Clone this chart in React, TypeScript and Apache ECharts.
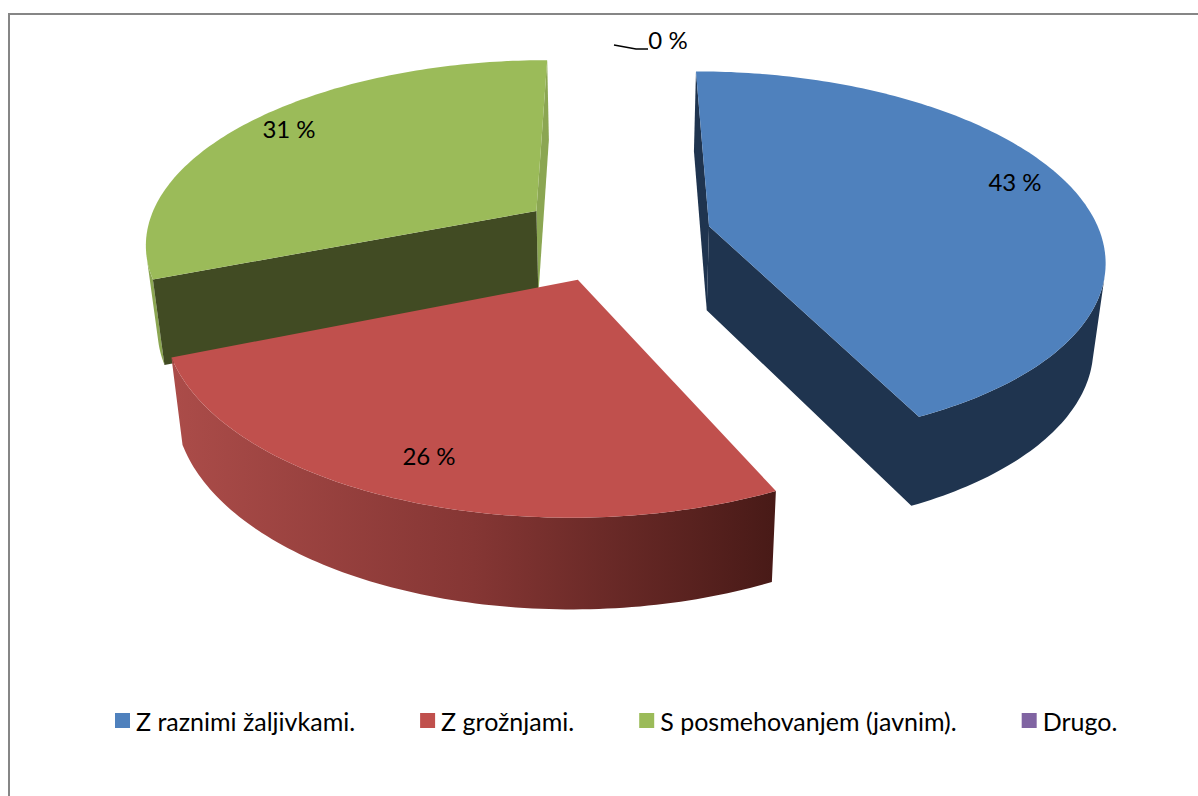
import React, { useEffect, useRef } from "react";
import * as echarts from "echarts";

const categories = ["Z raznimi žaljivkami.", "Z grožnjami.", "S posmehovanjem (javnim).", "Drugo."];
const values = [43, 26, 31, 0];
const topColors = ["#4F81BD", "#C0504D", "#9BBB59", "#8064A2"];
const FONT = "Lato";

// projection of the tilted pie plane
const CX = 615, CY = 236, RX = 392, RY = 183, K = 0.163, EXPLODE = 0.248;
const rad = (d: number) => (d * Math.PI) / 180;
const total = values.reduce((a, b) => a + b, 0);

function project(u: number, v: number): [number, number] {
  const w = 1 - K * v;
  return [CX + (RX * u) / w, CY + (RY * v) / w];
}
function extrude(p: number[]): [number, number] {
  return [CX + (p[0] - CX) * 0.975, p[1] + 84 + (p[1] - 226) * 0.0265];
}
function sliceGeom(index: number) {
  const start = (values.slice(0, index).reduce((a, b) => a + b, 0) / total) * 360;
  const sweep = (values[index] / total) * 360;
  const mid = start + sweep / 2;
  const ou = EXPLODE * Math.sin(rad(mid));
  const ov = -EXPLODE * Math.cos(rad(mid));
  const apex = project(ou, ov);
  const arc: [number, number][] = [];
  const n = Math.max(2, Math.ceil(sweep));
  for (let i = 0; i <= n; i++) {
    const t = rad(start + (sweep * i) / n);
    arc.push(project(ou + Math.sin(t), ov - Math.cos(t)));
  }
  return { apex, arc };
}
// index of the arc point on the silhouette of the extruded wall
function tangentIndex(arc: number[][], sign: number) {
  let best = 0;
  let score = -Infinity;
  arc.forEach((p, i) => {
    const s = sign * p[0] + 0.14 * p[1];
    if (s > score) {
      score = s;
      best = i;
    }
  });
  return best;
}

const poly = (points: number[][], fill: any, z2: number) => ({
  type: "polygon",
  z2,
  silent: true,
  shape: { points },
  style: { fill, stroke: null },
});
const label = (text: string, x: number, y: number, z2: number) => ({
  type: "text",
  z2,
  silent: true,
  style: { text, x, y, fill: "#000000", font: `24px ${FONT}`, textAlign: "center", textVerticalAlign: "middle" },
});

const redWall = new echarts.graphic.LinearGradient(
  172, 0, 775, 0,
  [
    { offset: 0, color: "#AB4C49" },
    { offset: 0.5, color: "#853634" },
    { offset: 1, color: "#481A17" },
  ],
  true
);

function renderBlue(_: any, api: any) {
  const v = api.value(0);
  const { apex, arc } = sliceGeom(0);
  const navy = "#1F344F";
  const seen = arc.slice(tangentIndex(arc, 1));
  return {
    type: "group",
    children: [
      poly([arc[0], apex, extrude(apex), extrude(arc[0])], navy, 5),
      poly([...seen, apex, extrude(apex), ...seen.map(extrude).reverse()], navy, 6),
      poly([apex, ...arc], topColors[0], 7),
      label(`${v} %`, 1015, 181, 20),
    ],
  };
}
function renderRed(_: any, api: any) {
  const v = api.value(0);
  const { apex, arc } = sliceGeom(1);
  return {
    type: "group",
    children: [
      poly([...arc, ...arc.map(extrude).reverse()], redWall, 8),
      poly([apex, ...arc], topColors[1], 9),
      label(`${v} %`, 429, 455, 20),
    ],
  };
}
function renderGreen(_: any, api: any) {
  const v = api.value(0);
  const { apex, arc } = sliceGeom(2);
  const last = arc[arc.length - 1];
  const seen = arc.slice(0, tangentIndex(arc, -1) + 1);
  return {
    type: "group",
    children: [
      poly([last, apex, extrude(apex), extrude(last)], "#8BA652", 1),
      poly([...seen, ...seen.map(extrude).reverse()], "#8BA652", 1),
      poly([apex, arc[0], extrude(arc[0]), extrude(apex)], "#414B23", 2),
      poly([apex, ...arc], topColors[2], 3),
      label(`${v} %`, 289, 128, 20),
    ],
  };
}
function renderOther(_: any, api: any) {
  const v = api.value(0);
  return {
    type: "group",
    children: [
      {
        type: "polyline",
        silent: true,
        z2: 20,
        shape: { points: [[614, 45], [636, 49], [648, 49]] },
        style: { stroke: "#000000", lineWidth: 1.5, fill: null },
      },
      label(`${v} %`, 668, 39, 20),
    ],
  };
}
const renderers = [renderBlue, renderRed, renderGreen, renderOther];

export default function App() {
  const ref = useRef<HTMLDivElement>(null);
  useEffect(() => {
    const chart = echarts.init(ref.current!, undefined, { renderer: "svg" });
    chart.setOption({
      animation: false,
      backgroundColor: "#FFFFFF",
      graphic: [
        {
          type: "rect",
          silent: true,
          shape: { x: 9, y: 14, width: 1400, height: 1000 },
          style: { fill: null, stroke: "#868686", lineWidth: 2 },
        },
      ],
      legend: {
        left: 115,
        top: 708,
        icon: "rect",
        itemWidth: 15,
        itemHeight: 15,
        itemGap: 65,
        selectedMode: false,
        padding: 0,
        textStyle: { fontFamily: FONT, fontSize: 25, color: "#000000", padding: [0, 0, 0, 1] },
        data: categories,
      },
      series: categories.map((name, i) => ({
        type: "custom",
        name,
        coordinateSystem: "none",
        silent: true,
        clip: false,
        itemStyle: { color: topColors[i] },
        data: [[values[i]]],
        renderItem: renderers[i],
      })),
    });
    return () => chart.dispose();
  }, []);
  return <div ref={ref} style={{ position: "absolute", left: 0, top: 0, width: 1198, height: 796 }} />;
}
